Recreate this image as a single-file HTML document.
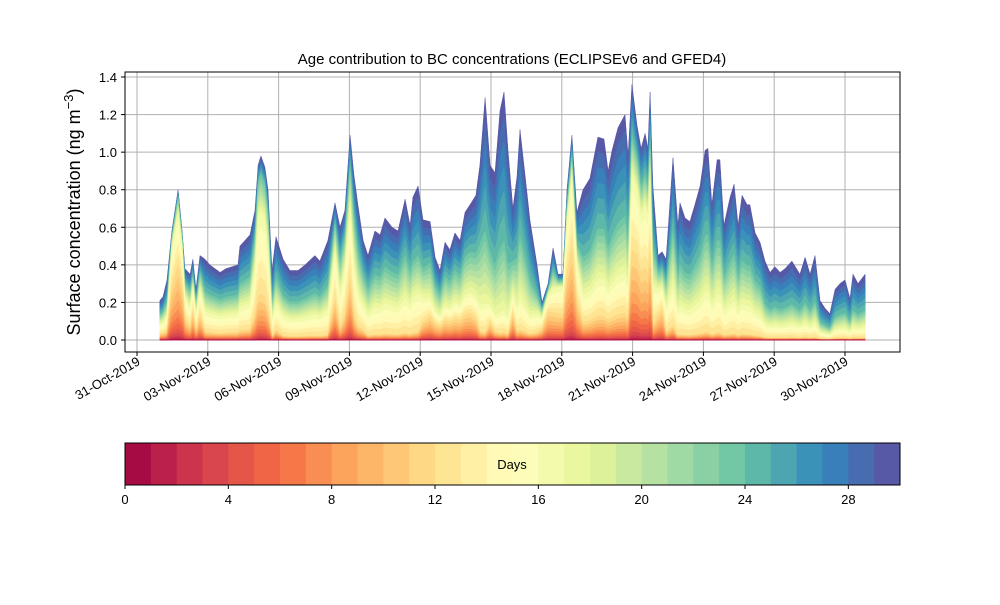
<!DOCTYPE html>
<html><head><meta charset="utf-8"><style>
body{margin:0;background:#fff}
svg text{font-family:"Liberation Sans","DejaVu Sans",sans-serif;fill:#000}
</style></head><body>
<svg id="c" width="1000" height="600" viewBox="0 0 1000 600" xmlns="http://www.w3.org/2000/svg">
<rect width="1000" height="600" fill="#fff"/>
<g id="grid"></g>
<g id="areas"></g>
<g id="axes"></g>
<text x="512" y="64" font-size="15" text-anchor="middle">Age contribution to BC concentrations (ECLIPSEv6 and GFED4)</text>
<text transform="translate(80,212) rotate(-90)" font-size="18" text-anchor="middle">Surface concentration (ng m<tspan dy="-7" font-size="13">−3</tspan><tspan dy="7">)</tspan></text>
<g id="cbar"></g>
</svg>
<script>
const days=[0.97,1.10,1.27,1.48,1.74,1.91,2.03,2.25,2.37,2.50,2.67,2.88,3.09,3.52,3.77,4.28,4.36,4.79,5.00,5.13,5.25,5.42,5.55,5.72,5.89,6.19,6.48,6.82,7.12,7.54,7.75,8.09,8.39,8.60,8.81,9.03,9.19,9.36,9.58,9.79,10.08,10.30,10.51,10.81,11.06,11.36,11.57,
11.69,11.91,12.12,12.42,12.63,12.84,13.05,13.26,13.47,13.69,13.90,14.11,14.36,14.53,14.75,14.96,15.17,15.38,15.55,15.72,15.93,16.10,16.23,16.44,16.65,16.95,17.16,17.42,17.63,17.84,18.05,18.22,18.43,18.64,18.90,19.19,19.53,19.79,19.96,20.13,20.38,20.68,20.81,20.97,21.19,21.36,21.53,21.65,21.74,21.86,22.08,22.25,22.42,22.71,22.92,23.01,23.22,23.43,23.64,23.86,24.07,24.19,24.36,24.58,24.70,24.87,25.13,25.30,25.47,25.64,25.85,25.97,26.19,26.40,26.61,26.82,27.03,27.25,27.46,27.75,28.09,28.31,28.52,28.73,28.94,29.15,29.36,29.58,29.79,30.00,30.21,30.34,30.55,30.85];
const total=[0.21,0.23,0.32,0.58,0.80,0.58,0.38,0.35,0.43,0.27,0.45,0.43,0.40,0.36,0.38,0.40,0.50,0.56,0.69,0.93,0.98,0.92,0.80,0.37,0.55,0.43,0.37,0.37,0.40,0.45,0.42,0.53,0.73,0.60,0.69,1.09,0.88,0.72,0.53,0.45,0.58,0.56,0.65,0.60,0.58,0.75,0.61,
0.76,0.82,0.64,0.63,0.44,0.37,0.52,0.48,0.57,0.53,0.68,0.72,0.77,0.93,1.29,0.93,0.89,1.22,1.32,1.01,0.70,0.87,1.12,0.88,0.64,0.40,0.20,0.30,0.49,0.35,0.35,0.80,1.09,0.68,0.80,0.86,1.08,1.07,0.90,1.01,1.13,1.20,0.98,1.36,1.14,1.02,1.10,1.02,1.32,0.82,0.45,0.47,0.43,0.97,0.61,0.73,0.65,0.63,0.72,0.82,1.01,1.02,0.72,0.96,0.96,0.61,0.76,0.83,0.61,0.77,0.72,0.72,0.57,0.52,0.42,0.36,0.39,0.36,0.38,0.42,0.35,0.44,0.35,0.45,0.21,0.17,0.14,0.27,0.30,0.32,0.22,0.35,0.30,0.35];
const frac12=[.15,.15,.15,.5,.5,.5,.3,.2,.35,.2,.3,.1,.1,.1,.1,.1,.1,.1,.2,.25,.25,.25,.2,.05,.1,.05,.05,.05,.05,.05,.05,.05,.3,.1,.2,.3,.15,.1,.1,.05,.05,.05,.05,.05,.05,.05,.05,
.05,.05,.15,.2,.2,.2,.2,.2,.2,.2,.2,.2,.15,.05,.03,.1,.05,.03,.03,.03,.2,.05,.05,.05,.05,.1,.3,.5,.3,.4,.4,.45,.45,.3,.12,.12,.12,.12,.12,.12,.12,.12,.12,.35,.4,.35,.35,.35,.35,.1,.3,.35,.1,.08,.04,.04,.04,.04,.04,.04,.04,.04,.04,.04,.04,.04,.04,.04,.04,.04,.04,.04,.04,.04,.03,.03,.03,.03,.03,.03,.03,.03,.03,.03,.03,.03,.03,.03,.03,.03,.03,.03,.03,.03];
const frac16=[.4,.4,.4,.85,.85,.85,.6,.5,.65,.5,.6,.35,.35,.35,.35,.35,.35,.35,.55,.7,.7,.7,.6,.3,.35,.3,.3,.3,.3,.3,.3,.3,.65,.4,.55,.65,.45,.35,.35,.3,.3,.3,.3,.3,.3,.3,.3,
.3,.3,.35,.35,.35,.35,.35,.35,.35,.35,.35,.35,.3,.2,.15,.2,.15,.12,.12,.12,.35,.2,.2,.2,.2,.35,.6,.8,.55,.8,.8,.8,.8,.6,.3,.3,.3,.3,.3,.3,.3,.3,.3,.65,.7,.65,.65,.65,.65,.35,.6,.6,.4,.3,.25,.25,.25,.25,.25,.25,.25,.25,.25,.25,.25,.25,.25,.25,.25,.25,.25,.25,.25,.25,.2,.2,.2,.2,.2,.2,.2,.2,.2,.2,.2,.2,.2,.2,.2,.2,.2,.2,.2,.2];
const frac24=[.65,.65,.65,.95,.95,.95,.8,.75,.8,.75,.8,.6,.6,.6,.6,.6,.6,.6,.8,.9,.9,.9,.85,.55,.6,.55,.55,.55,.55,.55,.55,.55,.85,.7,.8,.85,.75,.65,.65,.6,.6,.6,.6,.6,.6,.6,.6,
.55,.55,.6,.65,.65,.65,.65,.65,.65,.65,.65,.65,.6,.55,.45,.5,.45,.4,.4,.4,.6,.5,.5,.5,.5,.6,.8,.9,.75,.9,.9,.9,.9,.75,.55,.55,.55,.55,.55,.55,.55,.55,.55,.8,.85,.8,.8,.8,.8,.6,.8,.8,.7,.6,.55,.55,.55,.55,.55,.55,.55,.55,.55,.55,.55,.55,.55,.55,.55,.55,.55,.55,.55,.55,.45,.45,.45,.45,.45,.45,.45,.45,.45,.45,.45,.45,.45,.45,.45,.45,.45,.45,.45,.45];
const yTicks=[0,0.2,0.4,0.6,0.8,1.0,1.2,1.4];
const xTickDays=[0,3,6,9,12,15,18,21,24,27,30];
const xTickLabels=["31-Oct-2019","03-Nov-2019","06-Nov-2019","09-Nov-2019","12-Nov-2019","15-Nov-2019","18-Nov-2019","21-Nov-2019","24-Nov-2019","27-Nov-2019","30-Nov-2019"];
const cbarTicks=[0,4,8,12,16,20,24,28];
const nAges=30;

const NS="http://www.w3.org/2000/svg";
const L=125,R=900,T=72,B=352;
const xs=d=>137+d*23.6;
const ys=v=>340-v*187.86;
function mk(tag,attrs,parent){const e=document.createElementNS(NS,tag);for(const k in attrs)e.setAttribute(k,attrs[k]);parent.appendChild(e);return e;}
const anchors=["#9e0142","#d53e4f","#f46d43","#fdae61","#fee08b","#ffffbf","#e6f598","#abdda4","#66c2a5","#3288bd","#5e4fa2"];
function hex(h){return [1,3,5].map(i=>parseInt(h.substr(i,2),16));}
function spectral(t){const p=t*10,i=Math.min(9,Math.floor(p)),f=p-i;const a=hex(anchors[i]),b=hex(anchors[i+1]);return "rgb("+a.map((v,k)=>Math.round(v+(b[k]-v)*f)).join(",")+")";}
const grid=document.getElementById('grid'),areas=document.getElementById('areas'),axes=document.getElementById('axes'),cbar=document.getElementById('cbar');
yTicks.forEach(v=>{const l=mk('line',{x1:L,x2:R,y1:ys(v),y2:ys(v),stroke:'#b0b0b0','stroke-width':1},grid);

});
xTickDays.forEach(d=>{const l=mk('line',{x1:xs(d),x2:xs(d),y1:T,y2:B,stroke:'#b0b0b0','stroke-width':1},grid);

});
function cum(i,a){
  if(a<=12){return frac12[i]*Math.pow(a/12,2.2);}
  const pts=[[12,frac12[i]],[17,frac16[i]],[24,frac24[i]],[30,1]];
  for(let k=0;k<3;k++){if(a<=pts[k+1][0]){const f=(a-pts[k][0])/(pts[k+1][0]-pts[k][0]);return pts[k][1]+(pts[k+1][1]-pts[k][1])*f;}}return 1;}
for(let k=nAges-1;k>=0;k--){
  let d="";
  for(let i=0;i<days.length;i++){d+=(i?"L":"M")+xs(days[i]).toFixed(1)+","+ys(total[i]*cum(i,k+1)).toFixed(1);}
  d+="L"+xs(days[days.length-1]).toFixed(1)+","+ys(0)+"L"+xs(days[0]).toFixed(1)+","+ys(0)+"Z";
  const p=mk('path',{d:d,fill:spectral((k+0.5)/nAges),stroke:spectral((k+0.5)/nAges),'stroke-width':0.5},areas);
  
  
}
const fr=mk('rect',{x:L,y:T,width:R-L,height:B-T,fill:'none',stroke:'#000','stroke-width':1},axes);


yTicks.forEach(v=>{mk('line',{x1:L-4,x2:L,y1:ys(v),y2:ys(v),stroke:'#000'},axes);
const t=mk('text',{x:L-8,y:ys(v)+5,'font-size':13,'text-anchor':'end'},axes);t.textContent=v.toFixed(1);

});
xTickDays.forEach((d,i)=>{const x=xs(d);mk('line',{x1:x,x2:x,y1:B,y2:B+4,stroke:'#000'},axes);
const t=mk('text',{transform:`translate(${x+4},${B+12}) rotate(-30)`,'font-size':13,'text-anchor':'end'},axes);t.textContent=xTickLabels[i];

});
const cL=125,cR=900,cT=443,cB=485,w=(cR-cL)/nAges;
for(let k=0;k<nAges;k++){const r=mk('rect',{x:cL+k*w,y:cT,width:w+0.5,height:cB-cT,fill:spectral((k+0.5)/nAges)},cbar);

}
mk('rect',{x:cL,y:cT,width:cR-cL,height:cB-cT,fill:'none',stroke:'#000'},cbar);
cbarTicks.forEach(v=>{const x=cL+v*w;mk('line',{x1:x,x2:x,y1:cB,y2:cB+4,stroke:'#000'},cbar);
const t=mk('text',{x:x,y:cB+19,'font-size':13,'text-anchor':'middle'},cbar);t.textContent=v;

});
const dl=mk('text',{x:512,y:469,'font-size':13,'text-anchor':'middle'},cbar);dl.textContent="Days";


</script>
</body></html>
